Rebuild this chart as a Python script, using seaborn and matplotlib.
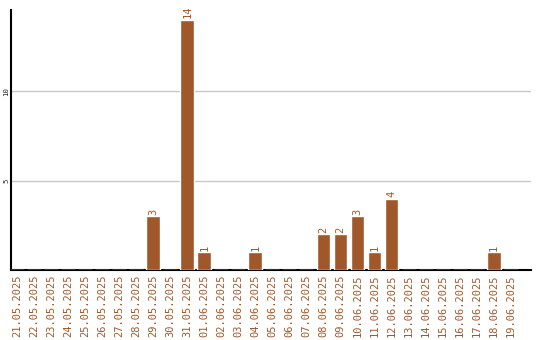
import matplotlib
matplotlib.use("Agg")
import matplotlib.pyplot as plt
import seaborn as sns
import pandas as pd

dates = ["21.05.2025", "22.05.2025", "23.05.2025", "24.05.2025", "25.05.2025",
         "26.05.2025", "27.05.2025", "28.05.2025", "29.05.2025", "30.05.2025",
         "31.05.2025", "01.06.2025", "02.06.2025", "03.06.2025", "04.06.2025",
         "05.06.2025", "06.06.2025", "07.06.2025", "08.06.2025", "09.06.2025",
         "10.06.2025", "11.06.2025", "12.06.2025", "13.06.2025", "14.06.2025",
         "15.06.2025", "16.06.2025", "17.06.2025", "18.06.2025", "19.06.2025"]
counts = [0, 0, 0, 0, 0, 0, 0, 0, 3, 0,
          14, 1, 0, 0, 1, 0, 0, 0, 2, 2,
          3, 1, 4, 0, 0, 0, 0, 0, 1, 0]
yticks = [5, 10]

color = "#A0582A"
sns.set_style("white")
plt.rcParams['font.family'] = ['DejaVu Sans Mono', 'DejaVu Sans']

df = pd.DataFrame({"date": dates, "count": counts})
fig = plt.figure(figsize=(5.4, 3.4), dpi=100)
ax = fig.add_axes([10.5/540, 1 - 270/340, 520.5/540, 260/340])
sns.barplot(data=df, x="date", y="count", order=dates, color=color,
            saturation=1, width=0.82, ax=ax, zorder=3)
ax.set_xlim(-0.4, 30.2)
ax.set_ylim(0, 14.55)
ax.set_yticks(yticks)
ax.set_yticklabels([str(v) for v in yticks], rotation=90, fontsize=5.3, va="center")
ax.grid(axis="y", color="#c8c8c8", linewidth=1, zorder=0)
ax.set_axisbelow(True)
ax.tick_params(axis="x", labelrotation=90, labelsize=7.5, labelcolor=color, length=0, pad=3)
ax.tick_params(axis="y", length=0, pad=1)
ax.set_xlabel("")
ax.set_ylabel("")
for s in ["top", "right"]:
    ax.spines[s].set_visible(False)
for s in ["left", "bottom"]:
    ax.spines[s].set_color("black")
    ax.spines[s].set_linewidth(1.5)

cont = ax.containers[0]
labels = [str(v) if v > 0 else "" for v in counts]
ax.bar_label(cont, labels=labels, rotation=90, color=color, fontsize=7.5, padding=1)

fig.savefig("out.png", dpi=100)
